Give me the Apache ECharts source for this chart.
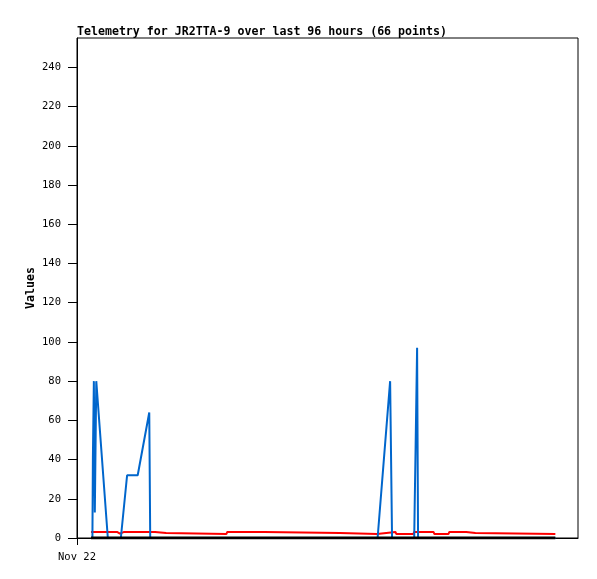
<!DOCTYPE html>
<html>
<head>
<meta charset="utf-8">
<script src="https://cdn.jsdelivr.net/npm/echarts@6/dist/echarts.min.js"></script>
<style>html,body{margin:0;padding:0;background:#fff;}#c{width:597px;height:579px;}</style>
</head>
<body>
<div id="c"></div>
<script>
// hours since Nov 22 00:00
const blueHours = [3.2, 3.3, 3.5, 3.7, 4.0, 6.4, 9.1, 10.4, 12.6, 15.0, 15.2, 62.4, 65.0, 65.1, 65.4, 70.0, 70.1, 70.3, 70.6, 70.8, 99.3];
const blueValues = [0, 41, 80, 13, 80, 0, 0, 32, 32, 64, 0, 0, 80, 60, 0, 0, 17, 48, 97, 0, 0];
const redHours = [2.9, 8.3, 8.9, 9.8, 16.2, 16.4, 18.5, 18.7, 31.0, 31.2, 38.9, 39.1, 54.6, 54.9, 62.3, 62.5, 64.2, 64.4, 66.1, 66.3, 69.8, 70.0, 74.0, 74.2, 74.5, 74.8, 77.1, 77.3, 80.8, 81.0, 82.7, 82.9, 99.3];
const redValues = [3.1, 3.1, 2.2, 3.1, 3.1, 2.6, 2.6, 2.0, 2.0, 3.1, 3.1, 2.6, 2.6, 2.0, 2.0, 2.6, 2.6, 3.1, 3.1, 2.0, 2.0, 3.1, 3.1, 2.0, 2.6, 2.0, 2.0, 3.1, 3.1, 2.6, 2.6, 2.0, 2.0];
const blackHours = [2.9, 99.3];
const blackValues = [0, 0];
const yTicks = [0, 20, 40, 60, 80, 100, 120, 140, 160, 180, 200, 220, 240];
const xTicks = [0];
const xTickLabels = ['Nov 22'];

const pairs = (xs, ys) => xs.map((x, i) => [x, ys[i]]);
const chart = echarts.init(document.getElementById('c'), null, {renderer: 'canvas'});
chart.setOption({
  animation: false,
  backgroundColor: '#fff',
  title: {
    text: 'Telemetry for JR2TTA-9 over last 96 hours (66 points)',
    left: 72, top: 21,
    textStyle: {fontFamily: 'DejaVu Sans Mono', fontSize: 11.6, fontWeight: 'bold', color: '#000'}
  },
  grid: {left: 77, right: 19, top: 38, bottom: 41, show: true, borderColor: '#000', borderWidth: 1, backgroundColor: 'transparent'},
  xAxis: {
    type: 'value', min: 0, max: 104,
    axisLine: {show: true, lineStyle: {color: '#000', width: 1}},
    axisTick: {show: true, length: 7, customValues: xTicks, lineStyle: {color: '#000'}},
    axisLabel: {customValues: xTicks, margin: 14, fontFamily: 'DejaVu Sans Mono', fontSize: 10.5, color: '#000',
      formatter: v => { const i = xTicks.indexOf(v); return i >= 0 ? xTickLabels[i] : ''; }},
    splitLine: {show: false}
  },
  yAxis: {
    type: 'value', min: 0, max: 255,
    name: 'Values', nameLocation: 'middle', nameGap: 40, nameMoveOverlap: false,
    nameTextStyle: {fontFamily: 'DejaVu Sans Mono', fontSize: 11.6, fontWeight: 'bold', color: '#000'},
    axisLine: {show: true, lineStyle: {color: '#000', width: 1}},
    axisTick: {show: true, length: 9, customValues: yTicks, lineStyle: {color: '#000'}},
    axisLabel: {customValues: yTicks, margin: 16, fontFamily: 'DejaVu Sans Mono', fontSize: 10.5, color: '#000'},
    splitLine: {show: false}
  },
  series: [
    {type: 'line', data: pairs(redHours, redValues), symbol: 'none', lineStyle: {color: '#ff0000', width: 2}, z: 2},
    {type: 'line', data: pairs(blueHours, blueValues), symbol: 'none', lineStyle: {color: '#0066cc', width: 2}, z: 3},
    {type: 'line', data: pairs(blackHours, blackValues), symbol: 'none', lineStyle: {color: '#000', width: 3}, z: 4}
  ]
});
</script>
</body>
</html>
